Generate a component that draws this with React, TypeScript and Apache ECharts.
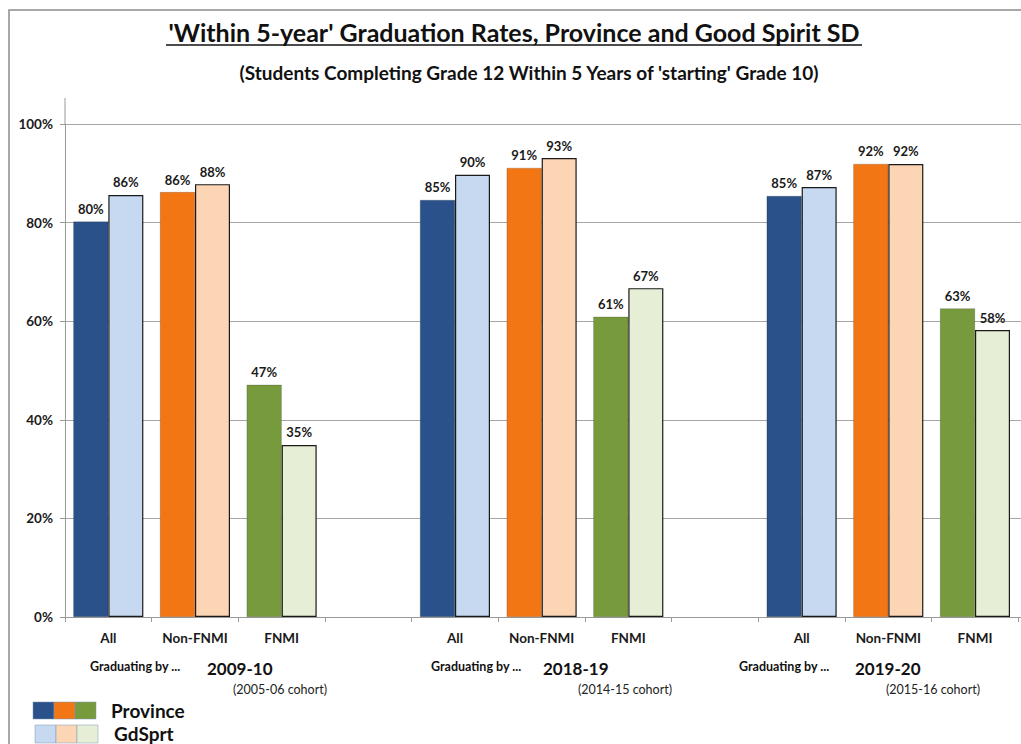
import React, { useEffect, useRef } from "react";
import * as echarts from "echarts";

const categories = [
  "All", "Non-FNMI", "FNMI", "",
  "All", "Non-FNMI", "FNMI", "",
  "All", "Non-FNMI", "FNMI", "",
];
const provinceValues = [80.2, 86.2, 47.1, null, 84.6, 91.1, 60.9, null, 85.4, 91.9, 62.6, null];
const gdSprtValues = [85.6, 87.8, 34.9, null, 89.7, 93.1, 66.7, null, 87.2, 91.9, 58.2, null];
const provinceColors = ["#2a5189", "#f27614", "#779a3c"];
const gdSprtColors = ["#c6d9f1", "#fcd5b5", "#e6efd6"];
const yTicks = [0, 20, 40, 60, 80, 100];
const groupYears = ["2009-10", "2018-19", "2019-20"];
const groupCohorts = ["(2005-06 cohort)", "(2014-15 cohort)", "(2015-16 cohort)"];

const FONT = "Lato, 'Noto Sans', sans-serif";

export default function App() {
  const ref = useRef<HTMLDivElement>(null);
  useEffect(() => {
    document.body.style.margin = "0";
    document.body.style.overflow = "hidden";
    document.documentElement.style.overflow = "hidden";
    const chart = echarts.init(ref.current!, null, { renderer: "svg" });
    const mkData = (vals: (number | null)[], colors: string[]) =>
      vals.map((v, i) => ({
        value: v,
        itemStyle: { color: colors[i % 4] ?? "#000" },
      }));
    const label = {
      show: true,
      position: "top",
      distance: 6,
      fontFamily: FONT,
      fontWeight: "bold",
      fontSize: 13,
      color: "#1a1a1a",
      formatter: (p: any) => (p.value == null ? "" : Math.round(p.value) + "%"),
    };
    const annX = [
      [90, 207, 233],
      [431, 543, 578],
      [739, 855, 886],
    ];
    const graphics: any[] = [
      {
        type: "rect",
        shape: { x: 9, y: 10, width: 1120, height: 760 },
        style: { fill: "none", stroke: "#8c8c8c", lineWidth: 1.5 },
        silent: true,
      },
      {
        type: "text",
        x: 514,
        y: 32,
        style: {
          text: "'Within 5-year' Graduation Rates, Province and Good Spirit SD",
          font: `bold 25px ${FONT}`,
          fill: "#111",
          align: "center",
          verticalAlign: "middle",
        },
      },
      {
        type: "line",
        shape: { x1: 166, y1: 45, x2: 862, y2: 45 },
        style: { stroke: "#111", lineWidth: 1.5 },
      },
      {
        type: "text",
        x: 529,
        y: 72,
        style: {
          text: "(Students Completing Grade 12 Within 5 Years of 'starting' Grade 10)",
          font: `bold 19px ${FONT}`,
          fill: "#111",
          align: "center",
          verticalAlign: "middle",
        },
      },
      {
        type: "line",
        shape: { x1: 65, y1: 98, x2: 65, y2: 124 },
        style: { stroke: "#9a9a9a", lineWidth: 1 },
      },
    ];
    groupYears.forEach((yr, g) => {
      const [a, b, c] = annX[g];
      graphics.push(
        {
          type: "text",
          x: a,
          y: 666,
          style: { text: "Graduating by ...", font: `bold 12.5px ${FONT}`, fill: "#111", align: "left", verticalAlign: "middle" },
        },
        {
          type: "text",
          x: b,
          y: 668,
          style: { text: yr, font: `bold 17px ${FONT}`, fill: "#111", align: "left", verticalAlign: "middle" },
        },
        {
          type: "text",
          x: c,
          y: 689,
          style: { text: groupCohorts[g], font: `12.5px ${FONT}`, fill: "#222", align: "left", verticalAlign: "middle" },
        }
      );
    });
    provinceColors.forEach((col, i) => {
      graphics.push({
        type: "rect",
        shape: { x: 33 + i * 21, y: 702, width: 21, height: 17 },
        style: { fill: col, stroke: "#7f95b0", lineWidth: 0.5 },
      });
    });
    gdSprtColors.forEach((col, i) => {
      graphics.push({
        type: "rect",
        shape: { x: 35 + i * 21, y: 725, width: 21, height: 18 },
        style: { fill: col, stroke: "#7f95b0", lineWidth: 0.5 },
      });
    });
    graphics.push(
      {
        type: "text",
        x: 111,
        y: 710,
        style: { text: "Province", font: `bold 19px ${FONT}`, fill: "#111", align: "left", verticalAlign: "middle" },
      },
      {
        type: "text",
        x: 114,
        y: 733,
        style: { text: "GdSprt", font: `bold 19px ${FONT}`, fill: "#111", align: "left", verticalAlign: "middle" },
      }
    );

    chart.setOption({
      animation: false,
      backgroundColor: "#fff",
      grid: { left: 65, right: 5, top: 124, bottom: 127, containLabel: false },
      xAxis: {
        type: "category",
        data: categories,
        boundaryGap: true,
        axisLine: { lineStyle: { color: "#9a9a9a", width: 1 } },
        axisTick: { show: true, length: 5, lineStyle: { color: "#9a9a9a" } },
        axisLabel: {
          interval: 0,
          margin: 14,
          fontFamily: FONT,
          fontWeight: "bold",
          fontSize: 13.5,
          color: "#1a1a1a",
        },
      },
      yAxis: {
        type: "value",
        min: yTicks[0],
        max: yTicks[yTicks.length - 1],
        interval: 20,
        axisLine: { show: true, lineStyle: { color: "#9a9a9a" } },
        axisTick: { show: true, length: 5, lineStyle: { color: "#9a9a9a" } },
        splitLine: { lineStyle: { color: "#a6a6a6", width: 1 } },
        axisLabel: {
          margin: 12,
          fontFamily: FONT,
          fontWeight: "bold",
          fontSize: 13.5,
          color: "#1a1a1a",
          formatter: (v: number) => v + "%",
        },
      },
      series: [
        {
          name: "Province",
          type: "bar",
          data: mkData(provinceValues, provinceColors),
          barWidth: 35,
          barGap: "0%",
          label,
          itemStyle: { borderColor: "rgba(0,0,0,0.35)", borderWidth: 0.5 },
        },
        {
          name: "GdSprt",
          type: "bar",
          data: mkData(gdSprtValues, gdSprtColors),
          barWidth: 35,
          label,
          itemStyle: { borderColor: "#1a1a1a", borderWidth: 1.2 },
        },
      ],
      graphic: graphics,
    });
    return () => chart.dispose();
  }, []);
  return <div ref={ref} style={{ width: 1110, height: 744 }} />;
}
